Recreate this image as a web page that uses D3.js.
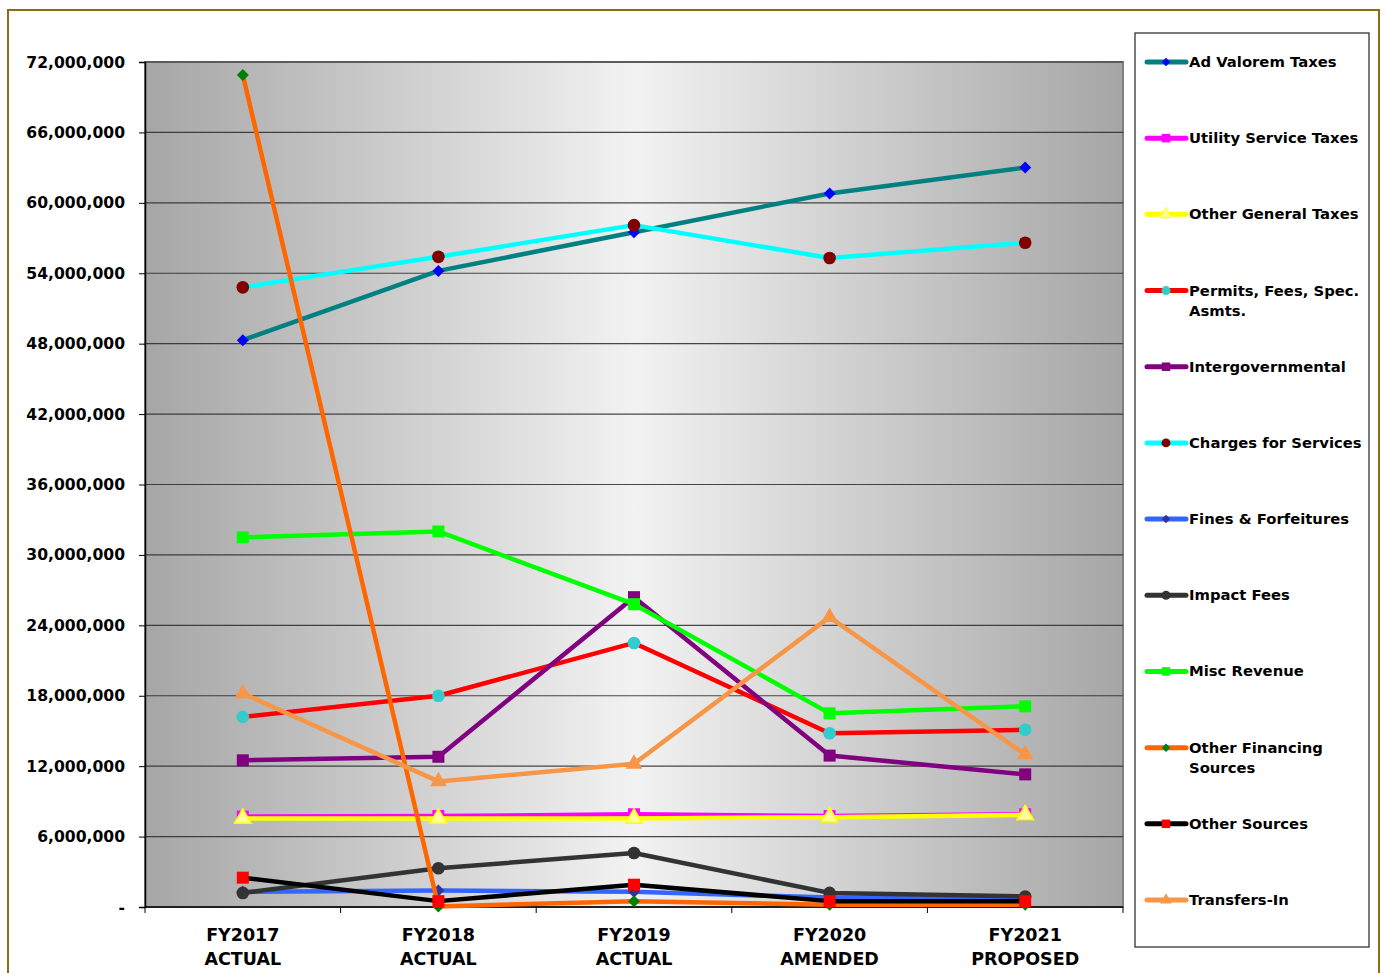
<!DOCTYPE html>
<html><head><meta charset="utf-8">
<script src="https://cdn.jsdelivr.net/npm/d3@7"></script>
<style>body{margin:0;background:#fff;}svg{display:block;}</style>
</head><body>
<script>
const categories = [["FY2017","ACTUAL"],["FY2018","ACTUAL"],["FY2019","ACTUAL"],["FY2020","AMENDED"],["FY2021","PROPOSED"]];
const yTicks = [0,6e6,12e6,18e6,24e6,30e6,36e6,42e6,48e6,54e6,60e6,66e6,72e6];

const adValorem     = [48.3e6, 54.2e6, 57.5e6, 60.8e6, 63.0e6];
const utilityTaxes  = [7.7e6, 7.75e6, 7.9e6, 7.75e6, 7.9e6];
const otherGeneral  = [7.55e6, 7.55e6, 7.55e6, 7.65e6, 7.85e6];
const permits       = [16.2e6, 18.0e6, 22.5e6, 14.8e6, 15.1e6];
const intergov      = [12.5e6, 12.8e6, 26.4e6, 12.9e6, 11.3e6];
const charges       = [52.8e6, 55.4e6, 58.1e6, 55.3e6, 56.6e6];
const fines         = [1.3e6, 1.4e6, 1.3e6, 0.8e6, 0.7e6];
const impactFees    = [1.2e6, 3.3e6, 4.6e6, 1.2e6, 0.9e6];
const miscRevenue   = [31.5e6, 32.0e6, 25.8e6, 16.5e6, 17.1e6];
const otherFinancing= [70.9e6, 0.05e6, 0.5e6, 0.2e6, 0.2e6];
const otherSources  = [2.5e6, 0.5e6, 1.9e6, 0.5e6, 0.5e6];
const transfersIn   = [18.2e6, 10.7e6, 12.2e6, 24.7e6, 13.0e6];

const seriesNames = ["Ad Valorem Taxes","Utility Service Taxes","Other General Taxes","Permits, Fees, Spec. Asmts.","Intergovernmental","Charges for Services","Fines & Forfeitures","Impact Fees","Misc Revenue","Other Financing Sources","Other Sources","Transfers-In"];
const seriesValues = [adValorem, utilityTaxes, otherGeneral, permits, intergov, charges, fines, impactFees, miscRevenue, otherFinancing, otherSources, transfersIn];

const styles = [
  {line:"#008080", marker:"diamond", fill:"#0000FF", stroke:"none"},
  {line:"#FF00FF", marker:"square", fill:"#FF00FF", stroke:"none"},
  {line:"#FFFF00", marker:"triangle", fill:"#FFFF99", stroke:"#FFFF00"},
  {line:"#FF0000", marker:"circle", fill:"#33CCCC", stroke:"none"},
  {line:"#800080", marker:"square", fill:"#800080", stroke:"none"},
  {line:"#00FFFF", marker:"circle", fill:"#800000", stroke:"none"},
  {line:"#3366FF", marker:"diamond", fill:"#333399", stroke:"none"},
  {line:"#333333", marker:"circle", fill:"#333333", stroke:"none"},
  {line:"#00FF00", marker:"square", fill:"#00FF00", stroke:"none"},
  {line:"#FF6600", marker:"diamond", fill:"#008000", stroke:"none"},
  {line:"#000000", marker:"square", fill:"#FF0000", stroke:"none"},
  {line:"#F79646", marker:"triangle", fill:"#F79646", stroke:"none"}
];

const W = 1386, H = 973;
const svg = d3.select("body").append("svg").attr("width", W).attr("height", H);

// outer frame
svg.append("rect").attr("x",8).attr("y",10).attr("width",1371).attr("height",975)
  .attr("fill","#fff").attr("stroke","#8B6B16").attr("stroke-width",2);

const plot = {x0:145, x1:1123, y0:62, y1:907};
const x = d3.scaleBand().domain(categories.map(c=>c[0])).range([plot.x0, plot.x1]);
const y = d3.scaleLinear().domain([0, 72e6]).range([plot.y1, plot.y0]);

const defs = svg.append("defs");
const grad = defs.append("linearGradient").attr("id","bg").attr("x1","0%").attr("x2","100%").attr("y1","0%").attr("y2","0%");
grad.append("stop").attr("offset","0%").attr("stop-color","#a6a6a6");
grad.append("stop").attr("offset","50%").attr("stop-color","#f2f2f2");
grad.append("stop").attr("offset","100%").attr("stop-color","#a6a6a6");

svg.append("rect").attr("x",plot.x0).attr("y",plot.y0).attr("width",plot.x1-plot.x0).attr("height",plot.y1-plot.y0)
  .attr("fill","url(#bg)").attr("stroke","#808080").attr("stroke-width",2);

// gridlines
svg.append("g").selectAll("line").data(yTicks.filter(t=>t>0)).join("line")
  .attr("x1",plot.x0).attr("x2",plot.x1).attr("y1",d=>y(d)).attr("y2",d=>y(d))
  .attr("stroke","#2a2a2a").attr("stroke-width",1.2).attr("opacity",0.85);

// y axis
const fmt = d => d === 0 ? "-" : d3.format(",")(d);
const yAxis = d3.axisLeft(y).tickValues(yTicks).tickFormat(fmt).tickSize(6).tickPadding(14);
const gy = svg.append("g").attr("transform",`translate(${plot.x0},0)`).call(yAxis);
gy.select(".domain").attr("stroke","#000").attr("stroke-width",1.5);
gy.selectAll(".tick line").attr("stroke","#000");
gy.selectAll("text").attr("font-family","DejaVu Sans").attr("font-weight","bold").attr("font-size",15.6).attr("fill","#000");

// x axis
const gx = svg.append("g").attr("transform",`translate(0,${plot.y1})`);
gx.append("line").attr("x1",plot.x0).attr("x2",plot.x1).attr("stroke","#000").attr("stroke-width",1.5);
const bounds = categories.map(c=>x(c[0])).concat([plot.x1]);
gx.selectAll("line.t").data(bounds).join("line").attr("class","t")
  .attr("x1",d=>d).attr("x2",d=>d).attr("y1",0).attr("y2",6).attr("stroke","#000");
const xl = gx.selectAll("text").data(categories).join("text")
  .attr("x",d=>x(d[0])+x.bandwidth()/2).attr("y",34)
  .attr("text-anchor","middle").attr("font-family","DejaVu Sans").attr("font-weight","bold").attr("font-size",17.5).attr("fill","#000");
xl.append("tspan").attr("x",d=>x(d[0])+x.bandwidth()/2).attr("dy",0).text(d=>d[0]);
xl.append("tspan").attr("x",d=>x(d[0])+x.bandwidth()/2).attr("dy",24).text(d=>d[1]);

function markerPath(type, scale){
  if(type==="diamond") return d3.symbol(d3.symbolSquare, 72*scale)();
  if(type==="square") return d3.symbol(d3.symbolSquare, 144*scale)();
  if(type==="circle") return d3.symbol(d3.symbolCircle, 125*scale)();
  return d3.symbol(d3.symbolTriangle, 120*scale)();
}

const line = d3.line().x((d,i)=>x(categories[i][0])+x.bandwidth()/2).y(d=>y(d));
const gs = svg.append("g");
seriesValues.forEach((vals, si) => {
  const st = styles[si];
  const g = gs.append("g");
  g.append("path").attr("d", line(vals)).attr("fill","none").attr("stroke",st.line).attr("stroke-width",4.5).attr("stroke-linejoin","round");
  g.selectAll("path.m").data(vals).join("path").attr("class","m")
    .attr("d", markerPath(st.marker,1))
    .attr("transform",(d,i)=>`translate(${x(categories[i][0])+x.bandwidth()/2},${y(d)})${st.marker==="diamond"?" rotate(45)":""}`)
    .attr("fill",st.fill).attr("stroke",st.stroke).attr("stroke-width",st.stroke==="none"?0:1.5);
});

// legend
const lg = svg.append("g");
lg.append("rect").attr("x",1135).attr("y",33).attr("width",234).attr("height",914).attr("fill","#fff").attr("stroke","#333").attr("stroke-width",1.3);
const itemY = d3.scaleLinear().domain([0,11]).range([62,900]);
seriesNames.forEach((name, si) => {
  const st = styles[si];
  const cy = itemY(si);
  lg.append("line").attr("x1",1147).attr("x2",1186).attr("y1",cy).attr("y2",cy)
    .attr("stroke",st.line).attr("stroke-width",5).attr("stroke-linecap","round");
  lg.append("path").attr("d", markerPath(st.marker,0.5))
    .attr("transform",`translate(1166,${cy})${st.marker==="diamond"?" rotate(45)":""}`)
    .attr("fill",st.fill).attr("stroke",st.stroke).attr("stroke-width",st.stroke==="none"?0:1);
  const words = name === "Permits, Fees, Spec. Asmts." ? ["Permits, Fees, Spec.","Asmts."]
              : name === "Other Financing Sources" ? ["Other Financing","Sources"] : [name];
  const t = lg.append("text").attr("x",1189).attr("y",cy+5).attr("font-family","DejaVu Sans").attr("font-weight","bold").attr("font-size",14.8).attr("fill","#000");
  words.forEach((w,i)=> t.append("tspan").attr("x",1189).attr("dy",i===0?0:20).text(w));
});
</script>
</body></html>
